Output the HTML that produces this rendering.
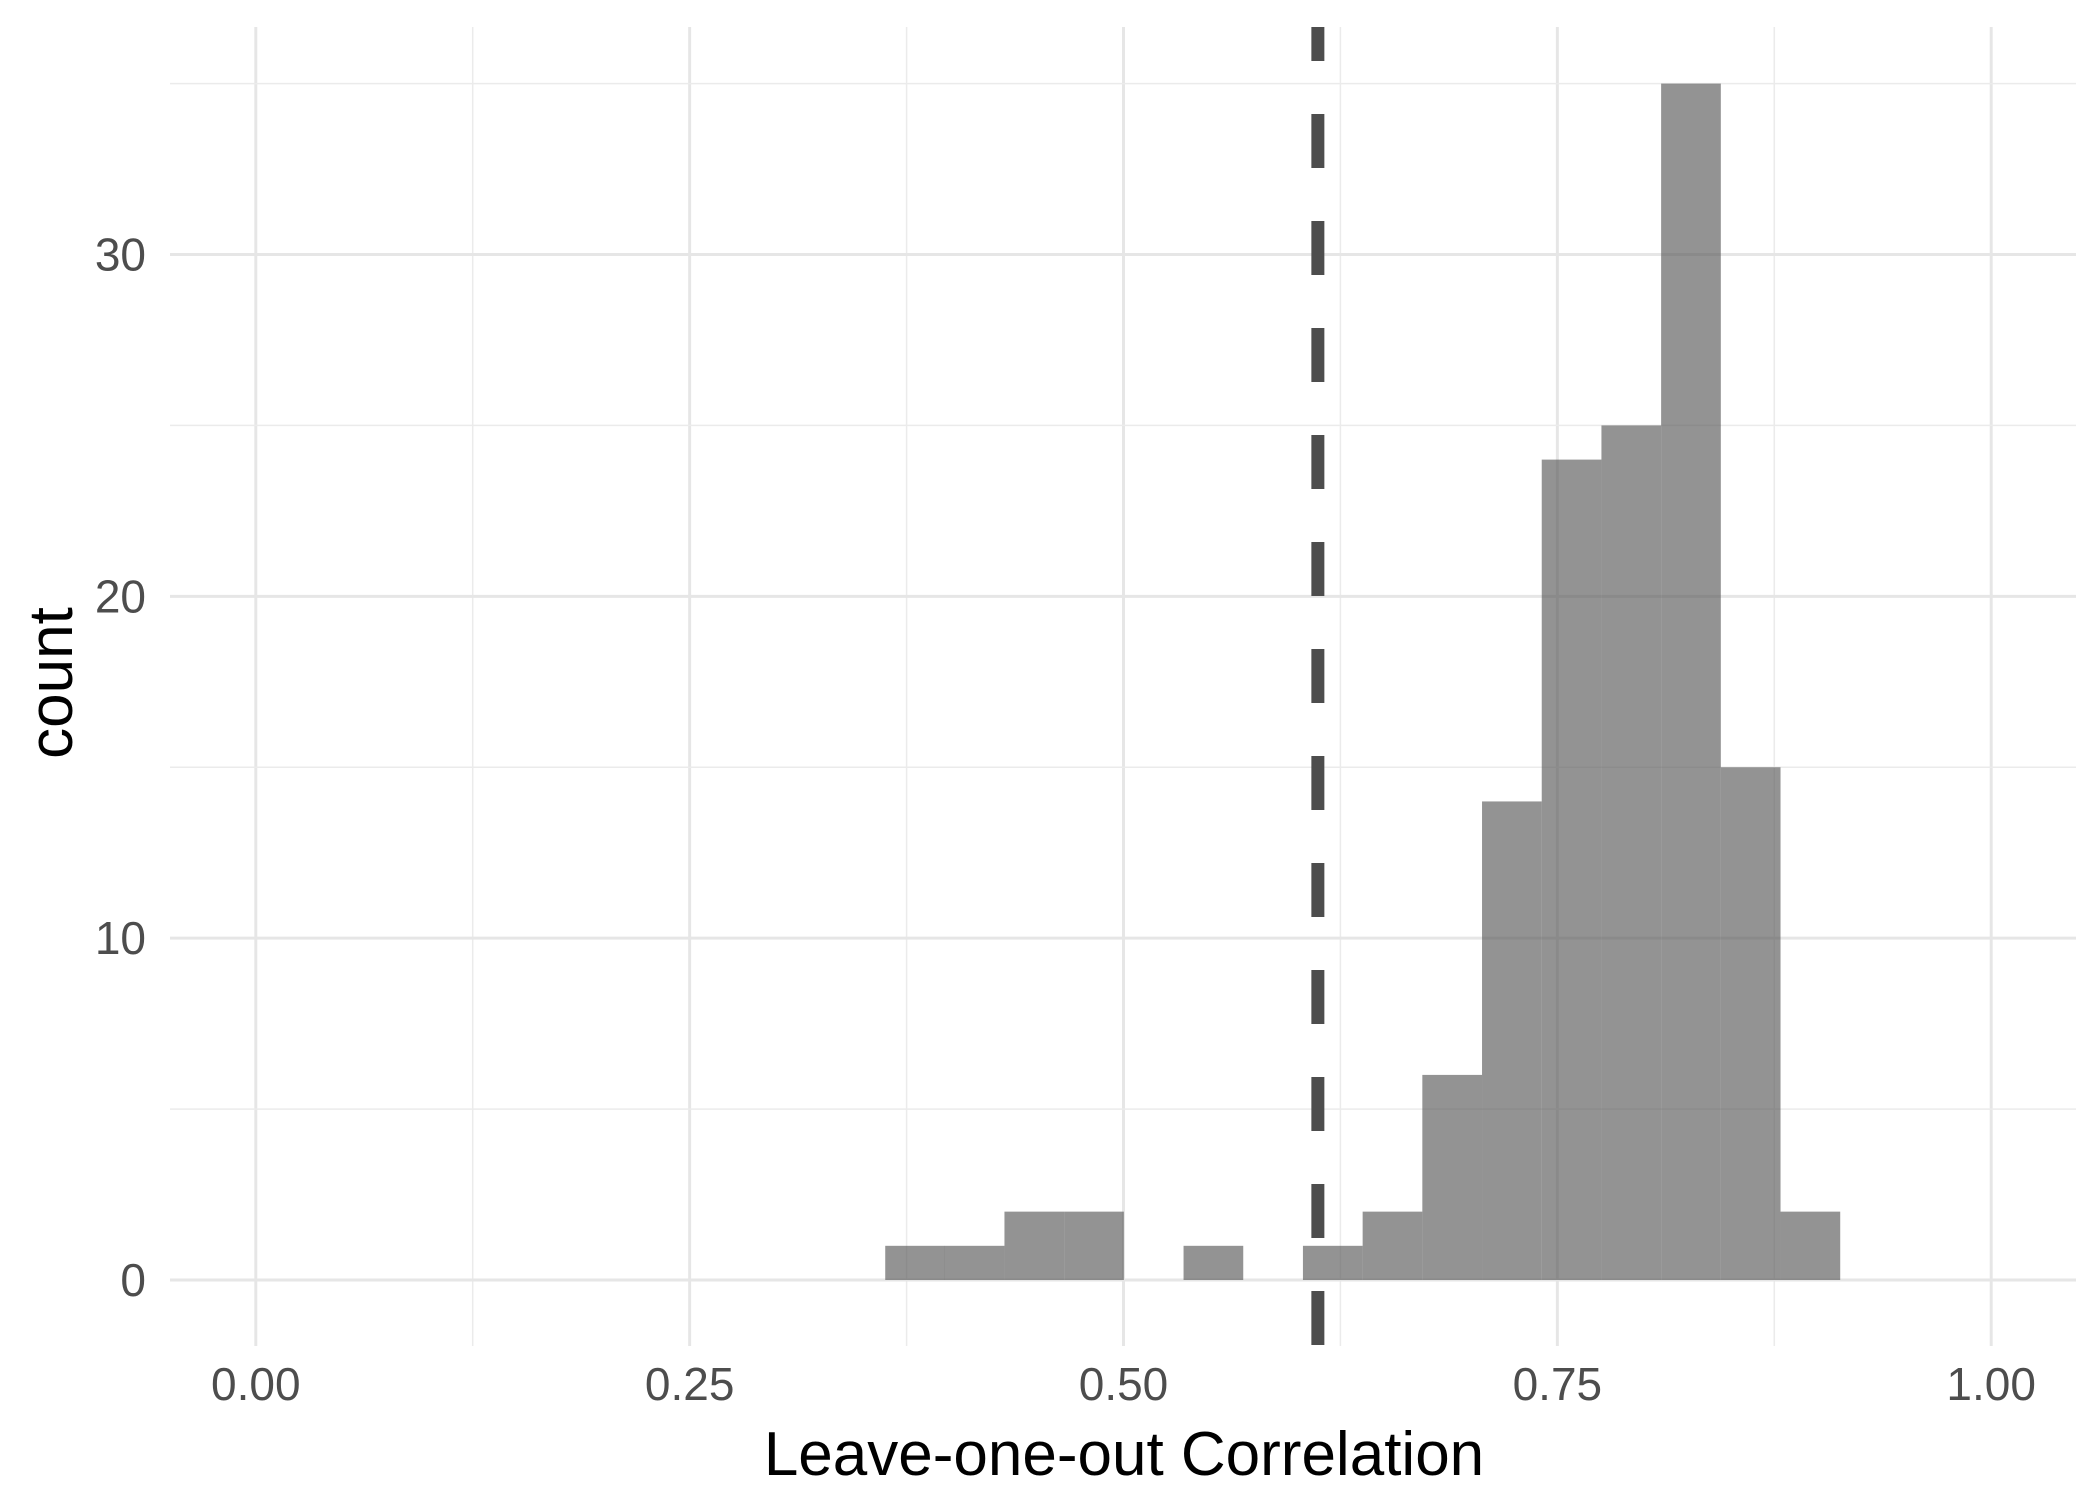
<!DOCTYPE html>
<html><head><meta charset="utf-8"><style>body{margin:0;background:#fff}svg{display:block}</style></head>
<body>
<svg id="chart" width="2100" height="1500" xmlns="http://www.w3.org/2000/svg" font-family="Liberation Sans, sans-serif">
<rect width="2100" height="1500" fill="#fff"/>
<g id="grid"></g><g id="bars"></g><g id="vline"></g><g id="labels"></g>
<text x="1124" y="1475" font-size="62" text-anchor="middle" fill="#000">Leave-one-out Correlation</text>
<text transform="translate(72,683) rotate(-90)" font-size="62" text-anchor="middle" fill="#000">count</text>
</svg>
<script>
const binStarts=[0.3627,0.397,0.4314,0.4658,0.5002,0.5346,0.569,0.6034,0.6378,0.6722,0.7066,0.741,0.7754,0.8098,0.8442,0.8786];
const counts=[1,1,2,2,0,1,0,1,2,6,14,24,25,35,15,2];
const binWidth=0.0344;
const xTicks=[0,0.25,0.5,0.75,1.0];
const xTickLabels=["0.00","0.25","0.50","0.75","1.00"];
const yTicks=[0,10,20,30];
const yTickLabels=["0","10","20","30"];
const refLine=0.612;
const NS="http://www.w3.org/2000/svg";
const X=v=>255.8+v*1735.4, Y=v=>1280-v*(1280-254.5)/30;
const L=170,R=2076,T=27,B=1346;
function mk(t,a,p){const e=document.createElementNS(NS,t);for(const k in a)e.setAttribute(k,a[k]);p.appendChild(e);return e;}
const g=document.getElementById('grid');
for(let i=0;i<xTicks.length;i++){
  const l=mk('line',{x1:X(xTicks[i]),x2:X(xTicks[i]),y1:T,y2:B,stroke:'#e6e6e6','stroke-width':3},g);
  
  
  if(i<xTicks.length-1){const m=(xTicks[i]+xTicks[i+1])/2;
    const n=mk('line',{x1:X(m),x2:X(m),y1:T,y2:B,stroke:'#ebebeb','stroke-width':1.5},g);
    
    }
}
for(let i=0;i<yTicks.length;i++){
  const l=mk('line',{x1:L,x2:R,y1:Y(yTicks[i]),y2:Y(yTicks[i]),stroke:'#e6e6e6','stroke-width':3},g);
  
  
  const m=yTicks[i]+5;
  const n=mk('line',{x1:L,x2:R,y1:Y(m),y2:Y(m),stroke:'#ebebeb','stroke-width':1.5},g);
  
  
}
const bg=document.getElementById('bars');
for(let i=0;i<counts.length;i++){
  if(!counts[i])continue;
  const r=mk('rect',{x:X(binStarts[i]),y:Y(counts[i]),width:X(binStarts[i]+binWidth)-X(binStarts[i]),height:Y(0)-Y(counts[i]),fill:'#595959','fill-opacity':0.65},bg);
  
  
}
const vl=mk('line',{x1:X(refLine),x2:X(refLine),y1:T,y2:B,stroke:'#4d4d4d','stroke-width':13,'stroke-dasharray':'54 53','stroke-dashoffset':'20'},document.getElementById('vline'));


const lg=document.getElementById('labels');
for(let i=0;i<xTicks.length;i++){
  const t=mk('text',{x:X(xTicks[i]),y:1400,'font-size':46,'text-anchor':'middle',fill:'#4d4d4d'},lg);t.textContent=xTickLabels[i];
  
  
}
for(let i=0;i<yTicks.length;i++){
  const t=mk('text',{x:146,y:Y(yTicks[i])+16,'font-size':46,'text-anchor':'end',fill:'#4d4d4d'},lg);t.textContent=yTickLabels[i];
  
  
}
</script>
</body></html>
